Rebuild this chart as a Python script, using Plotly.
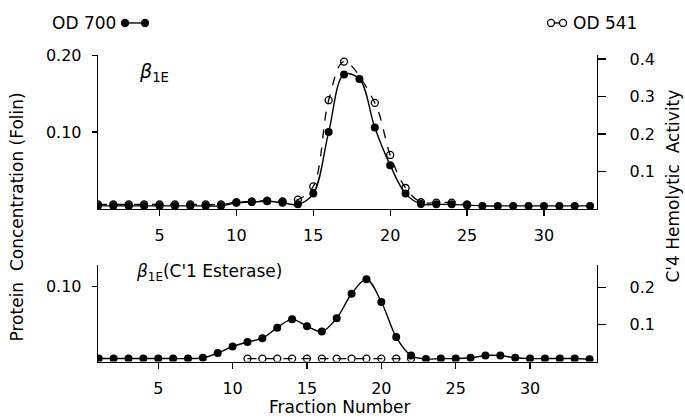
import plotly.graph_objects as go

# ---------------- data ----------------
fractions_top = list(range(1, 34))
od700_top = [0.004] * 9 + [0.008, 0.009, 0.010, 0.008, 0.006,
                           0.020, 0.100, 0.175, 0.169, 0.106, 0.057, 0.020, 0.0065,
                           0.006, 0.006, 0.005] + [0.004] * 8

fractions_top_541 = list(range(1, 18)) + list(range(19, 26))
od541_top = [0.012] * 9 + [0.018, 0.020, 0.022, 0.020, 0.025,
                           0.060, 0.290, 0.393,
                           0.283, 0.144, 0.056, 0.018, 0.017, 0.017, 0.012]

fractions_bot = list(range(1, 35))
od700_bot = [0.004] * 7 + [0.005, 0.0114, 0.020, 0.026, 0.031, 0.045, 0.056,
                           0.047, 0.040, 0.0575, 0.090, 0.109, 0.079, 0.0325,
                           0.008, 0.0035, 0.004, 0.004, 0.005, 0.008, 0.008,
                           0.005, 0.004, 0.004, 0.004, 0.004, 0.003]

fractions_bot_541 = list(range(11, 23))
od541_bot = [0.008] * 12

x_ticks = [5, 10, 15, 20, 25, 30]
top_left_ticks = [0.10, 0.20]
top_left_labels = ["0.10", "0.20"]
top_right_ticks = [0.1, 0.2, 0.3, 0.4]
top_right_labels = ["0.1", "0.2", "0.3", "0.4"]
bot_left_ticks = [0.10]
bot_left_labels = ["0.10"]
bot_right_ticks = [0.1, 0.2]
bot_right_labels = ["0.1", "0.2"]

# ---------------- layout geometry ----------------
W, H = 685, 418
# the photographed page shows the figure at y_img = 8 + 0.981 * y_fig; invert that mapping
Y_OFF, Y_SCALE = 8.0, 0.981
FONT = "DejaVu Sans"
FS = 16

def px_x(p):
    return p / W

def px_y(p):
    return 1 - ((p - Y_OFF) / Y_SCALE) / H

x_dom = [px_x(98), px_x(597)]
top_dom = [px_y(208.5), px_y(54.3)]
bot_dom = [px_y(361.5), px_y(265)]

fig = go.Figure()

filled = dict(symbol="circle", size=8, color="black")
hollow = dict(symbol="circle-open", size=7, color="black", line=dict(width=1.3, color="black"))

fig.add_trace(go.Scatter(x=fractions_top_541, y=od541_top, xaxis="x", yaxis="y3",
                         mode="lines+markers", line=dict(color="black", width=1.3, dash="dash", shape="spline"),
                         marker=hollow, showlegend=False, hoverinfo="skip"))
fig.add_trace(go.Scatter(x=fractions_top, y=od700_top, xaxis="x", yaxis="y",
                         mode="lines+markers", line=dict(color="black", width=1.4, shape="spline"),
                         marker=filled, showlegend=False, hoverinfo="skip"))
fig.add_trace(go.Scatter(x=fractions_bot_541, y=od541_bot, xaxis="x2", yaxis="y4",
                         mode="lines+markers", line=dict(color="black", width=1.2, dash="dash"),
                         marker=hollow, showlegend=False, hoverinfo="skip"))
fig.add_trace(go.Scatter(x=fractions_bot, y=od700_bot, xaxis="x2", yaxis="y2",
                         mode="lines+markers", line=dict(color="black", width=1.4, shape="spline"),
                         marker=filled, showlegend=False, hoverinfo="skip"))

axis_common = dict(showgrid=False, zeroline=False, showline=True, linecolor="black", linewidth=1.3,
                   ticks="outside", tickcolor="black", tickwidth=1.2,
                   tickfont=dict(family=FONT, size=FS, color="black"))

fig.update_layout(
    width=W, height=H,
    margin=dict(l=0, r=0, t=0, b=0),
    paper_bgcolor="white", plot_bgcolor="white",
    font=dict(family=FONT, size=FS, color="black"),
    xaxis=dict(domain=x_dom, anchor="y", range=[1.0, 33.45], tickvals=x_ticks, ticklen=6,
               ticklabelstandoff=6, **axis_common),
    yaxis=dict(domain=top_dom, anchor="x", range=[0, 0.2], tickvals=top_left_ticks,
               ticktext=top_left_labels, ticklen=5, ticklabelstandoff=7, **axis_common),
    yaxis3=dict(domain=top_dom, anchor="x", overlaying="y", side="right", range=[0, 0.41],
                tickvals=top_right_ticks, ticktext=top_right_labels, ticklen=8,
                ticklabelstandoff=20, **axis_common),
    xaxis2=dict(domain=x_dom, anchor="y2", range=[0.95, 34.5], tickvals=x_ticks, ticklen=6,
                ticklabelstandoff=6, **axis_common),
    yaxis2=dict(domain=bot_dom, anchor="x2", range=[0, 0.1276], tickvals=bot_left_ticks,
                ticktext=bot_left_labels, ticklen=5, ticklabelstandoff=7, **axis_common),
    yaxis4=dict(domain=bot_dom, anchor="x2", overlaying="y2", side="right", range=[0, 0.259],
                tickvals=bot_right_ticks, ticktext=bot_right_labels, ticklen=8,
                ticklabelstandoff=20, **axis_common),
)

ann = []
def add_text(text, x, y, xanchor="center", yanchor="middle", angle=0, size=FS):
    ann.append(dict(text=text, x=px_x(x), y=px_y(y), xref="paper", yref="paper",
                    xanchor=xanchor, yanchor=yanchor, showarrow=False, textangle=angle,
                    font=dict(family=FONT, size=size, color="black")))

add_text("OD 700", 118, 22, xanchor="right", size=17)
add_text("OD 541", 571, 22, xanchor="left", size=17)
add_text("Protein  Concentration (Folin)", 17, 217, angle=-90, size=17)
add_text("C'4 Hemolytic  Activity", 673, 186, angle=-90, size=17)
add_text("Fraction Number", 340, 407, size=17)
add_text("<i>β</i><sub>1E</sub>", 137, 72, xanchor="left", size=19)
add_text("<i>β</i><sub>1E</sub>(C'1 Esterase)", 134, 272, xanchor="left", size=17)
fig.update_layout(annotations=ann)

shapes = []
def dot(cx, cy, filled_dot=True):
    shapes.append(dict(type="circle", xref="paper", yref="paper", xsizemode="pixel", ysizemode="pixel",
                       xanchor=px_x(cx), yanchor=px_y(cy), x0=-3.5, x1=3.5, y0=-3.5, y1=3.5,
                       line=dict(color="black", width=1.3),
                       fillcolor="black" if filled_dot else "white"))
def seg(x0, x1, y):
    shapes.append(dict(type="line", xref="paper", yref="paper", x0=px_x(x0), x1=px_x(x1),
                       y0=px_y(y), y1=px_y(y), line=dict(color="black", width=1.4)))
seg(125, 145, 22)
dot(125, 22); dot(145, 22)
seg(551, 563, 22)
dot(551, 22, False); dot(563, 22, False)
fig.update_layout(shapes=shapes)

fig.write_html("out.html",
               config={"displayModeBar": False, "staticPlot": True},
               post_script="document.body.style.margin='0';document.body.style.padding='0';"
                           "document.body.style.overflow='hidden';"
                           "var d=document.getElementById('{plot_id}');"
                           "d.style.position='absolute';d.style.top='0px';d.style.left='0px';")
